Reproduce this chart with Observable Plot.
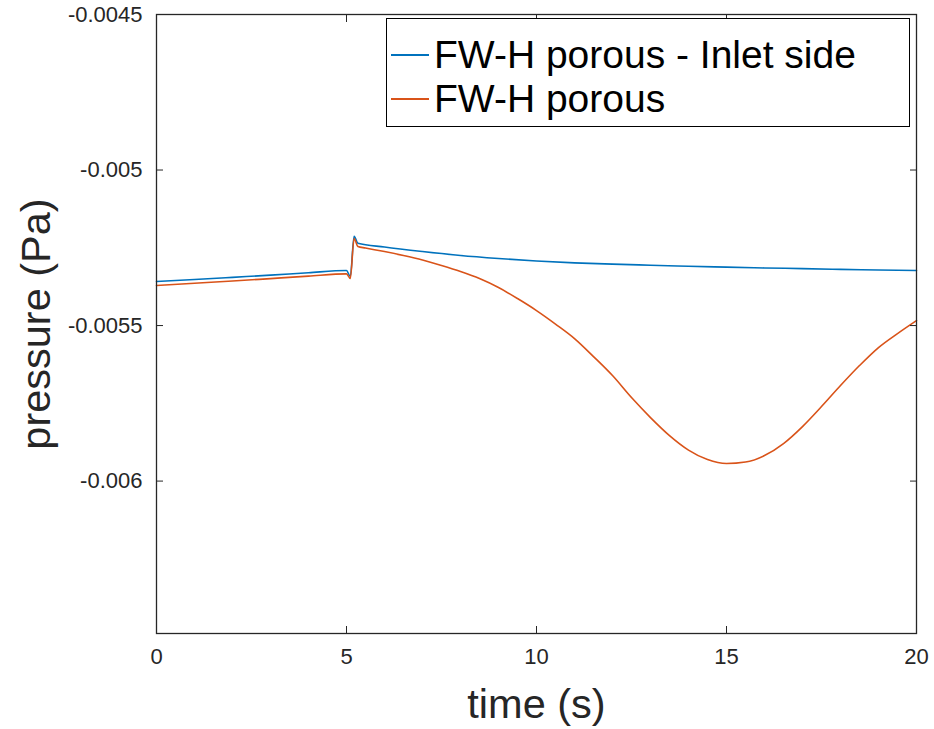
<!DOCTYPE html>
<html>
<head>
<meta charset="utf-8">
<script src="https://cdn.jsdelivr.net/npm/d3@7"></script>
<script src="https://cdn.jsdelivr.net/npm/@observablehq/plot@0.6"></script>
<style>
  html, body { margin: 0; padding: 0; background: #fff; }
  #wrap { position: relative; width: 934px; height: 729px; font-family: "Liberation Sans", Arial, sans-serif; }
  #wrap svg { position: absolute; left: 0; top: 0; }
  #legend { position: absolute; left: 386px; top: 18px; width: 524px; height: 109px; box-sizing: border-box;
    border: 1.5px solid #000; background: #fff; }
  .item { position: absolute; left: 4px; height: 44px; display: flex; align-items: center; font-size: 39px; color: #000; white-space: nowrap; }
  .swatch { width: 38px; height: 0; border-top: 2px solid; margin-right: 5px; }
</style>
</head>
<body>
<div id="wrap"></div>
<script>
// ---- data ----
const seriesNames = ["FW-H porous - Inlet side", "FW-H porous"];
const seriesColors = ["#0072BD", "#D95319"];

const inletTime = [0, 1, 2, 3, 4, 5.0, 5.1, 5.2, 5.3, 6, 7, 8, 9, 10, 11, 12, 13, 14, 15, 16, 17, 18, 19, 20];
const inletPressure = [-0.0053585, -0.005352, -0.005345, -0.005338, -0.00533, -0.0053231, -0.0053424, -0.0052129,
  -0.0052354, -0.0052476, -0.0052621, -0.0052749, -0.0052846, -0.0052926, -0.0052984, -0.0053026, -0.0053061,
  -0.0053093, -0.0053122, -0.0053148, -0.005317, -0.0053193, -0.0053212, -0.0053231];

const porousTime = [0, 1, 2, 3, 4, 5.0, 5.1, 5.2, 5.3, 5.5, 6, 6.5, 7, 7.5, 8, 8.5, 9, 9.5, 10, 10.5, 11, 11.5,
  12, 12.5, 13, 13.5, 14, 14.5, 15, 15.5, 16, 16.5, 17, 17.5, 18, 18.5, 19, 19.5, 20];
const porousPressure = [-0.0053714, -0.005364, -0.005357, -0.005349, -0.005341, -0.0053338, -0.0053489, -0.0052203,
  -0.005246, -0.0052508, -0.0052621, -0.0052749, -0.0052894, -0.0053071, -0.0053264, -0.0053489, -0.0053778,
  -0.0054132, -0.0054518, -0.0054952, -0.0055418, -0.0055997, -0.0056608, -0.0057315, -0.0057958, -0.0058537,
  -0.0059003, -0.0059309, -0.0059437, -0.0059389, -0.005918, -0.0058794, -0.0058247, -0.0057604, -0.0056929,
  -0.0056286, -0.0055707, -0.0055257, -0.0054839];

const xTicks = [0, 5, 10, 15, 20];
const yTicks = [-0.0045, -0.005, -0.0055, -0.006];
const xLabel = "time (s)";
const yLabel = "pressure (Pa)";

// ---- build table ----
const rows = [
  ...inletTime.map((t, i) => ({time: t, p: inletPressure[i], series: seriesNames[0]})),
  ...porousTime.map((t, i) => ({time: t, p: porousPressure[i], series: seriesNames[1]}))
];

const axisColor = "#262626";
const chart = Plot.plot({
  width: 934,
  height: 729,
  marginLeft: 156,
  marginRight: 18,
  marginTop: 14,
  marginBottom: 96,
  style: {fontFamily: "Liberation Sans, Arial, sans-serif", color: axisColor, background: "white"},
  x: {domain: [0, 20]},
  y: {domain: [-0.00649, -0.0045]},
  color: {domain: seriesNames, range: seriesColors},
  marks: [
    Plot.line(rows, {x: "time", y: "p", z: "series", stroke: "series", strokeWidth: 1.6, curve: "monotone-x"}),
    Plot.frame({stroke: axisColor, strokeWidth: 1.3}),
    Plot.axisX({anchor: "bottom", ticks: xTicks, tickSize: -7, tickPadding: 22, fontSize: 22, label: null, tickFormat: d => String(d), stroke: axisColor}),
    Plot.axisX({anchor: "top", ticks: xTicks, tickSize: -7, tickFormat: () => "", label: null, stroke: axisColor}),
    Plot.axisY({anchor: "left", ticks: yTicks, tickSize: -7, tickPadding: 21, fontSize: 22, label: null, tickFormat: d => String(d), stroke: axisColor}),
    Plot.axisY({anchor: "right", ticks: yTicks, tickSize: -7, tickFormat: () => "", label: null, stroke: axisColor}),
    Plot.text([xLabel], {frameAnchor: "bottom", dy: 71, fontSize: 41.5, fill: "#262626", textAnchor: "middle", lineAnchor: "middle"}),
    Plot.text([yLabel], {frameAnchor: "left", dx: -120, rotate: -90, fontSize: 41.5, fill: "#262626", textAnchor: "middle", lineAnchor: "middle"})
  ]
});

const wrap = document.getElementById("wrap");
wrap.appendChild(chart);

// legend inside the axes (top-right)
const legend = document.createElement("div");
legend.id = "legend";
seriesNames.forEach((name, i) => {
  const item = document.createElement("div");
  item.className = "item";
  item.style.top = (i * 44 + 14) + "px";
  const sw = document.createElement("span");
  sw.className = "swatch";
  sw.style.borderTopColor = seriesColors[i];
  const tx = document.createElement("span");
  tx.textContent = name;
  item.appendChild(sw);
  item.appendChild(tx);
  legend.appendChild(item);
});
wrap.appendChild(legend);
</script>
</body>
</html>
